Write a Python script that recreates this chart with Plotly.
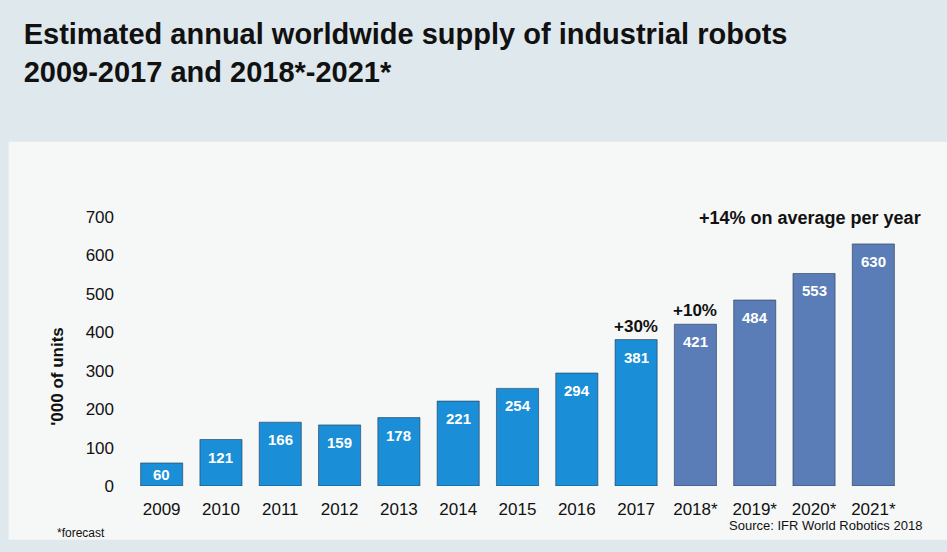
import plotly.graph_objects as go

years = ["2009", "2010", "2011", "2012", "2013", "2014", "2015", "2016", "2017",
         "2018*", "2019*", "2020*", "2021*"]
units = [60, 121, 166, 159, 178, 221, 254, 294, 381, 421, 484, 553, 630]
is_forecast = [False] * 9 + [True] * 4
y_ticks = [0, 100, 200, 300, 400, 500, 600, 700]

COL_ACT = "#1a8ed7"
COL_FC = "#5a7db7"
colors = [COL_FC if f else COL_ACT for f in is_forecast]
xpos = list(range(len(years)))

fig = go.Figure()
fig.add_trace(go.Bar(
    x=xpos, y=units,
    marker=dict(color=colors, line=dict(width=1, color="rgba(30,45,70,0.55)")),
    cliponaxis=False, width=0.71, hovertext=years, hoverinfo="text+y",
))

annotations = []
# value labels inside bar tops
for xi, v in zip(xpos, units):
    annotations.append(dict(x=xi, y=v, text=f"<b>{v}</b>", showarrow=False,
                            yanchor="top", yshift=-7 if v >= 100 else -1,
                            font=dict(size=15, color="white")))

annotations += [
    dict(x=xpos[8], y=units[8], text="<b>+30%</b>", showarrow=False,
         yanchor="bottom", yshift=2, font=dict(size=17, color="#111")),
    dict(x=xpos[9], y=units[9], text="<b>+10%</b>", showarrow=False,
         yanchor="bottom", yshift=2, font=dict(size=17, color="#111")),
    dict(x=1.026, xref="paper", xanchor="right", y=700, yanchor="middle",
         yshift=-1, text="<b>+14% on average per year</b>", showarrow=False,
         font=dict(size=18, color="#111")),
    dict(text="<b>'000 of units</b>", xref="paper", yref="paper", x=-0.096, y=0.41,
         xanchor="center", yanchor="middle", textangle=-90, showarrow=False,
         font=dict(size=17, color="#111")),
    dict(text="*forecast", xref="paper", yref="paper", x=-0.1, y=-0.175, xanchor="left",
         yanchor="middle", showarrow=False, font=dict(size=12, color="#111")),
    dict(text="Source: IFR World Robotics 2018", xref="paper", yref="paper", x=1.027, y=-0.145,
         xanchor="right", yanchor="middle", showarrow=False, font=dict(size=13, color="#111")),
]

# white chart panel
fig.add_shape(type="rect", xref="paper", yref="paper", layer="below",
              x0=-0.16, x1=1.07, y0=-0.2, y1=1.28,
              fillcolor="#f6f7f7", line=dict(width=0))

fig.update_layout(
    width=947, height=552,
    margin=dict(l=132, r=44, t=217, b=66),
    paper_bgcolor="#dfe8ec", plot_bgcolor="rgba(0,0,0,0)",
    font=dict(family="Liberation Sans, Arial, sans-serif", color="#111"),
    title=dict(text="<b>Estimated annual worldwide supply of industrial robots<br>2009-2017 and 2018*-2021*</b>",
               x=0.025, xanchor="left", y=0.92, yanchor="top",
               font=dict(family="Liberation Sans, Arial", size=29, color="#111")),
    showlegend=False,
    xaxis=dict(range=[-0.5, len(years) - 0.5], tickvals=xpos, ticktext=years,
               showgrid=False, showline=False, zeroline=False, ticks="",
               tickfont=dict(size=17, color="#111"), ticklabelstandoff=11),
    yaxis=dict(range=[0, 700], tickvals=y_ticks, showgrid=False, showline=False,
               zeroline=False, ticks="", tickfont=dict(size=17, color="#111"),
               ticklabelstandoff=17),
    annotations=annotations,
)

fig.write_html("out.html")
